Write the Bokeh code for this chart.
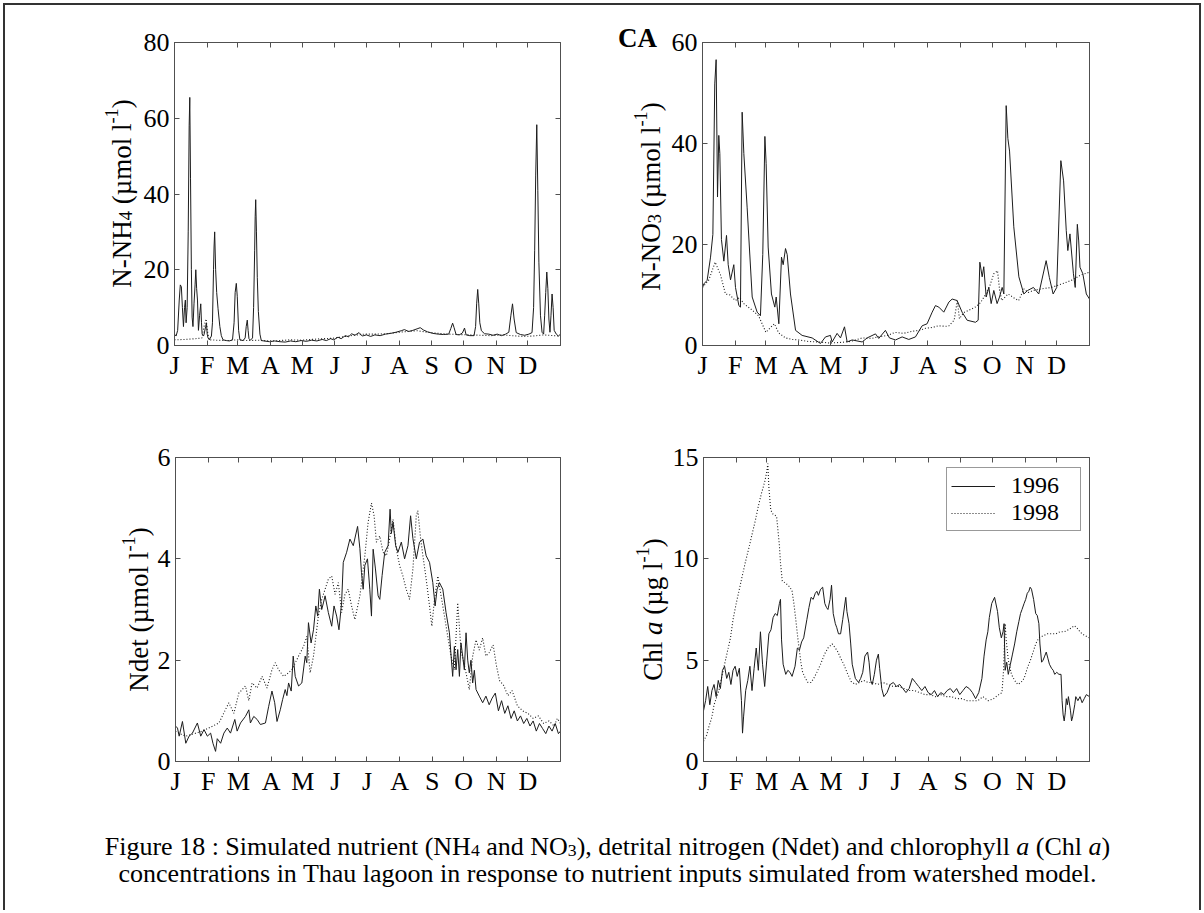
import os
import glob
import math

from bokeh.plotting import figure
from bokeh.models import Range1d, FixedTicker, LinearAxis, Label, Legend, LegendItem
from bokeh.layouts import column, row
from bokeh.embed import file_html
from bokeh.resources import INLINE

# ---------------------------------------------------------------- data
MONTH_TICKS = [0, 31, 60, 91, 121, 152, 182, 213, 244, 274, 305, 335]
MONTH_LABELS = ["J", "F", "M", "A", "M", "J", "J", "A", "S", "O", "N", "D"]
SERIES_NAMES = ["1996", "1998"]

# N-NH4 (umol/l)
nh4_1996_day = [0, 1.5, 3, 4.5, 5.5, 6.5, 7.5, 8.5, 9.5, 10.3, 11, 12, 13, 13.9, 14.5, 15.2, 16, 16.7, 17.5, 18.5,
                19.5, 20.2, 21, 21.8, 22.7, 23.8, 24.9, 25.6, 26.2, 27.5, 28.1, 29.5, 30.3, 31, 31.8, 33, 35, 36, 37,
                37.5, 38.1, 39, 40, 41.3, 43, 44.4, 46, 49.2, 52, 55, 56.5, 57.5, 58.6, 59.5, 60.8, 62, 65, 67, 68, 69,
                69.8, 70.6, 72, 74, 75, 76, 76.5, 77, 77.7, 78.5, 79.5, 81, 82.3, 85, 90, 95, 100, 105, 110, 115, 120,
                125, 130, 135, 140, 144, 148, 151, 155, 158, 162, 165, 168, 171, 175, 178, 182, 186, 190, 195, 200,
                205, 210, 215, 218, 222, 226, 230, 233, 236, 240, 245, 250, 255, 260, 262, 263.7, 265, 267, 270, 273,
                275, 276.5, 280, 284, 285.5, 286.5, 287.5, 288.5, 289.5, 291, 294, 298, 302, 306, 310, 314, 317, 319,
                320.5, 322, 324, 328, 332, 336, 339, 340.5, 341.5, 342.5, 343.5, 344.5, 345.5, 347, 348.5, 350, 351,
                352, 353, 354, 355, 356, 357, 358, 359, 360, 362, 364, 366]
nh4_1996 = [3, 2.5, 4, 12, 16, 15.5, 10, 5, 10, 12, 6, 10, 30, 58, 65.5, 44, 20, 7.5, 5, 11,
            16, 20, 15, 12, 4, 8, 11, 6, 3, 2.5, 3, 5, 6, 3, 2, 1.5, 2.5, 6, 20,
            26, 30, 20, 14, 9.7, 5, 2.6, 1.5, 1.3, 1.2, 1.5, 6, 14, 16.4, 13, 4, 1.5, 1.3, 2, 5, 6.7,
            4, 1.8, 1.4, 2, 10, 25, 34, 38.5, 30, 18, 9, 3, 1.3, 1.2, 1.0, 1.2, 1.0, 0.9, 1.2, 1.0, 1.3,
            1.1, 1.4, 1.2, 1.6, 1.3, 1.8, 1.5, 2.2, 1.8, 2.6, 2.3, 3.1, 2.7, 3.4, 2.5, 2.8, 2.4, 2.8, 2.6, 3.0,
            3.2, 3.5, 3.9, 4.2, 3.7, 4.0, 4.4, 4.7, 4.1, 3.6, 3.2, 3.0, 2.9, 3.0, 4.5, 5.9, 4.8, 2.9, 2.8, 3.3,
            4.6, 2.8, 2.6, 2.6, 5, 11, 14.8, 11, 6, 3.9, 3.1, 3.0, 2.7, 3.0, 2.6, 3.0, 3.5, 8,
            11, 7, 3.4, 2.9, 2.7, 3.0, 3.4, 10, 25, 45, 58.3, 41, 22, 8, 3.5, 3.0, 8,
            14, 19.4, 15, 7, 3.5, 8, 13.6, 10, 4, 3, 2.5, 3]

nh4_1998_day = [0, 10, 20, 26, 28, 30, 31, 33, 40, 50, 60, 70, 80, 90, 100, 110, 120, 130, 140, 150, 160, 170, 180,
                190, 200, 210, 220, 230, 240, 250, 260, 270, 280, 290, 300, 310, 320, 330, 340, 350, 360, 366]
nh4_1998 = [1.5, 1.6, 1.8, 2, 5, 7, 4, 1.5, 1.4, 1.3, 1.5, 1.3, 1.4, 1.2, 1.3, 1.5, 1.4, 1.6, 1.8, 1.9, 2.3, 2.7, 3.0,
            3.0, 3.1, 3.4, 3.7, 3.9, 3.5, 3.2, 3.0, 2.9, 2.8, 2.7, 2.6, 2.8, 2.6, 2.4, 2.5, 2.8, 2.6, 2.5]

# N-NO3 (umol/l)
no3_1996_day = [0, 1.3, 4.4, 7.6, 9.8, 11.6, 12.9, 14.2, 15.4, 16.4, 17.9, 20.2, 22.7, 24.3, 26.5, 29.6, 31.2, 34.4,
                35.9, 37.5, 39.1, 42.2, 47, 51.7, 54.8, 57, 59, 60.2, 62.1, 65.2, 68.4, 69.7, 72.2, 74.7, 76.3, 78.5,
                80.1, 83.2, 88, 94.2, 103.7, 111.6, 116.3, 121, 122.6, 127.3, 130.5, 134.3, 136.8, 141.5, 151, 155.7,
                163.6, 166.7, 173, 176.8, 182.5, 188.8, 195.1, 201.4, 207.7, 212.4, 217.2, 220.3, 223.5, 228.2, 233,
                236.1, 240.8, 245.5, 250.3, 258.2, 260.7, 262.3, 264.5, 266, 268.3, 270.8, 273, 275.5, 278.6, 280.9,
                283.4, 285, 287.2, 288.8, 290.4, 294.4, 299.2, 303.9, 307.5, 313, 318, 325, 328, 331.6, 335, 338.9,
                341.5, 344, 345.5, 347.5, 350.8, 352.5, 354.5, 355.8, 357, 359.7, 363, 366]
no3_1996 = [11.5, 12.2, 12.9, 17.5, 22, 51.8, 56.6, 29.4, 41.6, 38, 21, 16.7, 21.8, 16, 13, 16, 11.5, 7.9,
            7.6, 46.2, 38, 27.4, 9.6, 6.6, 5.9, 18, 41.4, 36, 19.5, 10.2, 7.6, 9.6, 4.3, 17.5, 16, 19.2,
            18, 10.2, 3, 2, 1.5, 0.4, 1.7, 2, 0.7, 2.4, 1.5, 3.7, 0.7, 1.1, 0.7, 1.5,
            2.3, 1.4, 3, 1.5, 1.1, 1.7, 1.2, 1.7, 3.9, 4.3, 6.6, 7.9, 7.6, 6.6, 8.6,
            9.2, 8.9, 6.6, 5, 4.6, 5, 16.5, 13.6, 15.6, 9.6, 11.5, 8.3, 10.9, 8.3, 9.6,
            11.5, 10.2, 47.5, 41, 38.5, 23.5, 13.6, 10.2, 10.9, 11.5, 10.2, 16.8, 13.5, 10.2, 11.5, 36.6,
            32.6, 22.8, 18.8, 22.1, 14.2, 11.5, 24, 20.7, 15.5, 14.2, 10.2, 9.2]

no3_1998_day = [0, 6, 12, 17, 21.7, 26, 31, 35, 39, 47, 53, 57, 60, 64, 68, 72, 78.5, 85, 91, 100, 110, 120, 130, 140,
                151, 160, 166, 175, 182, 190, 198, 205, 211, 218, 223, 230, 233, 238, 241, 243, 247, 252, 258, 263,
                268, 272, 275.5, 279, 281, 283, 289, 294, 299, 304, 308, 313, 320, 330, 340, 350, 358, 366]
no3_1998 = [11.5, 13, 16.5, 14, 10.2, 10, 8.9, 9.5, 8.3, 7, 5.9, 4, 2.6, 3.5, 4.3, 2.5, 1.5, 1.2, 1.1, 0.8, 0.7, 0.5,
            0.6, 0.8, 1.5, 1.4, 1.7, 2.0, 2.6, 2.4, 2.8, 3.0, 3.4, 3.6, 3.9, 3.8, 3.9, 5, 8.9, 5.3, 6.5, 7, 7.6, 8.5,
            10.2, 12, 14.2, 14.8, 11, 8.9, 10.2, 9.5, 8.9, 11.2, 10.5, 10.9, 11.2, 11.5, 12.2, 13, 14, 14.5]

# Ndet (umol/l)
ndet_1996_day = [0, 1.9, 3.5, 6.6, 9.8, 12.9, 16.1, 20.8, 24, 27.1, 30.3, 33.4, 35.6, 38.1, 39.7, 42.9, 46, 49.2,
                 52.3, 56.4, 58.6, 61.8, 66.5, 69.7, 71.2, 74.4, 77.6, 80.7, 85.5, 88.6, 91.7, 94.3, 96.5, 99.6,
                 101.8, 104.3, 105.9, 107.5, 110, 111.9, 113.8, 117, 120.1, 123.3, 124.8, 126.4, 128.9, 131.2, 133.4,
                 135.2, 136.8, 139, 140.6, 142.2, 145.3, 148.5, 150.7, 153.2, 155.4, 157.9, 159.5, 162.7, 165.8, 169,
                 173.1, 175.3, 176.8, 178.4, 180, 182.5, 184.7, 186.3, 187.9, 190.1, 192.6, 194.2, 196.4, 198.9,
                 202.1, 204, 205.2, 206.8, 209.3, 211.5, 214.7, 217.8, 221, 223.5, 225.7, 228.9, 232, 235.2, 238.3,
                 241.5, 244.6, 246.8, 248.7, 250.9, 254.1, 257.2, 260.4, 262, 263.5, 265.1, 266.7, 268.3, 269.9,
                 271.4, 273, 274.6, 276.2, 277.8, 279.3, 280.9, 282.5, 284.1, 285.7, 288.8, 292, 295.1, 298.2, 301,
                 304, 307, 310, 313, 316, 319, 322, 325, 328, 331, 334, 337, 340, 343, 346, 349, 352, 355, 358, 361,
                 364, 366]
ndet_1996 = [0.7, 0.66, 0.5, 0.79, 0.36, 0.5, 0.56, 0.76, 0.5, 0.63, 0.5, 0.56, 0.36, 0.2, 0.45, 0.36, 0.56, 0.66,
             0.56, 0.83, 0.6, 0.76, 0.89, 1.02, 0.76, 0.89, 0.83, 0.73, 0.76, 1.09, 1.39, 1.16, 0.79, 1.02,
             1.22, 1.42, 1.3, 1.55, 1.39, 2.08, 1.68, 1.49, 1.55, 2.08, 1.95, 2.74, 2.34, 2.6, 3.07,
             2.87, 3.4, 3.0, 3.13, 3.27, 2.94, 2.67, 3.07, 2.87, 2.6, 3.13, 3.93, 4.13, 4.39, 4.26,
             4.64, 4.2, 3.73, 3.4, 3.87, 4.0, 3.4, 2.87, 4.19, 3.8, 3.27, 3.2, 3.67, 4.13,
             4.26, 4.98, 4.5, 4.72, 4.26, 4.13, 4.33, 4.0, 4.26, 4.85, 4.4, 4.0, 4.33, 4.39, 4.06,
             3.93, 3.53, 3.07, 3.4, 3.53, 3.4, 2.94, 2.54, 2.08, 1.68, 2.27, 1.81, 2.21, 1.68,
             2.34, 2.08, 1.81, 2.54, 2.0, 1.75, 2.0, 1.55, 1.8, 1.42, 1.29, 1.16, 1.29, 1.12, 1.25,
             1.35, 1.0, 1.2, 0.95, 1.1, 0.85, 1.0, 0.8, 0.9, 0.75, 0.85, 0.7, 0.8, 0.6, 0.75, 0.65, 0.55, 0.7, 0.6, 0.75,
             0.55, 0.6]

ndet_1998_day = [0, 4, 9.8, 25.6, 41.3, 50.7, 55.5, 60.2, 66.5, 69.7, 72.8, 77.6, 82.3, 87, 91.7, 94.9, 98, 102.8,
                 107.5, 110.6, 117, 121.7, 124.8, 128, 131.2, 135.8, 139, 142.2, 145.3, 148.5, 151.7, 154.8, 157.9,
                 161.1, 164.2, 167.4, 170.5, 175.3, 180, 183.1, 186.3, 188.8, 191, 194.2, 197.3, 200.5, 203.6, 206.8,
                 209.9, 213, 216.2, 219.3, 222.5, 225.7, 228.9, 230.4, 233, 235.2, 238.3, 241.5, 243.7, 246.2, 249.4,
                 252.5, 255.7, 258.8, 262, 265.1, 268.3, 271.4, 276.2, 279.3, 282.5, 285.7, 288.8, 292, 295.1, 298.2,
                 302, 305, 308, 312, 316, 320, 325, 330, 335, 340, 345, 350, 355, 360, 363, 366]
ndet_1998 = [0.6, 0.55, 0.5, 0.6, 0.76, 1.16, 0.95, 1.35, 1.49, 1.2, 1.55, 1.45, 1.68, 1.45, 1.81, 1.95, 1.81, 1.68,
             1.75, 1.81, 2.08, 2.27, 2.47, 1.75, 2.08, 2.87, 3.2, 3.4, 3.6, 3.66, 3.3, 3.53, 2.94,
             3.3, 3.4, 3.07, 2.8, 3.27, 4.06, 4.72, 5.1, 4.85, 4.33, 4.45, 4.13, 4.06, 4.4, 4.78,
             4.2, 3.87, 3.66, 3.4, 3.2, 3.8, 4.85, 4.95, 4.4, 4.06, 3.6, 3.07, 2.67, 3.2, 3.66,
             3.27, 2.87, 2.47, 2.08, 1.81, 3.13, 2.2, 1.75, 1.42, 2.08, 2.4, 2.2, 2.44, 2.08, 2.15,
             2.3, 1.9, 1.6, 1.5, 1.3, 1.4, 1.1, 1.0, 0.95, 0.85, 0.9, 0.75, 0.8, 0.7, 0.85, 0.75]

# Chl a (ug/l)
chl_1996_day = [0, 2, 4, 6, 8, 10, 12, 14, 16, 18, 20, 22, 24, 26, 28, 30, 32, 34, 36, 37, 38, 40, 42, 44, 46, 48, 50,
                52, 54, 56, 58, 60, 62, 64, 66, 68, 70, 72, 73, 74, 75.5, 78, 80, 82, 84, 86.8, 89, 91, 93, 95, 98,
                100, 102, 104, 106, 107.5, 109, 111, 113, 115, 116.6, 118, 120, 121.4, 123, 125, 126.4, 128, 130,
                132, 134.9, 136, 138, 139.6, 141, 144, 147, 149, 151, 153, 155.6, 157, 158.5, 160, 162, 164, 165.8,
                167, 169, 171, 174, 177, 180, 183, 186, 189, 192, 195, 198, 201, 204, 207, 210, 213, 216, 219, 222,
                225, 228, 231, 234, 237, 240, 243, 246, 249, 252, 255, 258, 261, 264, 266, 268, 269.6, 271, 273.3,
                276, 278.8, 280.5, 282.4, 284, 285, 286, 287.5, 289, 291, 293, 295, 297, 299, 300.6, 302, 304, 305.5,
                307, 308.5, 309.7, 311, 313, 315, 316.5, 318, 319, 320.6, 322, 323.5, 325, 326.5, 328, 330, 331.6,
                333, 335, 337, 339, 340, 341, 342, 343, 344, 345, 346, 348, 349, 350, 352, 353, 355, 357, 359, 361,
                363, 366]
chl_1996 = [2.5, 3.0, 3.7, 2.8, 3.5, 3.8, 3.2, 4.0, 3.6, 4.5, 4.7, 4.1, 4.4, 3.8, 4.5, 4.7, 4.2, 4.6, 3.0, 1.4, 2.2,
            3.5, 4.0, 4.7, 3.5, 4.6, 5.6, 4.5, 6.4, 4.8, 3.7, 5.0, 6.3, 6.5, 7.1, 7.3, 7.2, 7.8, 8.0, 6.0, 4.8, 4.3,
            4.5, 4.4, 4.2, 4.7, 5.6, 5.5, 5.9, 6.1, 7.0, 7.6, 8.1, 8.0, 8.3, 8.4, 8.2, 8.5, 8.6, 7.8, 7.6, 7.5,
            8.0, 8.7, 7.3, 6.8, 6.6, 6.3, 6.3, 7.0, 8.1, 7.4, 6.8, 5.8, 4.8, 4.1, 3.9, 4.1, 4.4, 5.2, 5.4,
            4.9, 4.0, 3.8, 4.3, 5.0, 5.3, 4.6, 3.6, 3.2, 3.4, 3.8, 3.9, 3.7, 3.8, 3.6, 3.4, 3.6, 4.1, 3.9,
            3.7, 3.5, 3.7, 3.4, 3.3, 3.5, 3.2, 3.4, 3.3, 3.5, 3.6, 3.4, 3.6, 3.3, 3.5, 3.7, 3.6, 3.4, 3.1,
            3.4, 4.1, 5.2, 6.0, 6.4, 7.1, 7.8, 8.1, 7.4, 6.6, 6.1, 6.4, 6.8, 4.5, 4.9, 4.3, 4.8, 5.3, 5.8,
            6.4, 6.9, 7.3, 7.5, 7.8, 8.0, 8.3, 8.4, 8.6, 8.5, 8.0, 7.3, 7.2, 6.8, 5.8, 4.9, 5.0, 5.2, 5.4,
            5.1, 4.8, 4.6, 4.5, 4.3, 4.4, 4.3, 4.3, 3.0, 2.3, 2.0, 2.4, 3.1, 2.8, 3.2, 2.5, 2.0, 2.2, 2.8,
            3.2, 3.0, 3.2, 2.9, 3.1, 3.3, 3.2]

chl_1998_day = [0, 3, 5, 8, 10, 12, 14.6, 17, 20, 23, 25.6, 28, 31, 34, 36.5, 40, 43.8, 46, 49.2, 52, 54.8, 57, 58.5,
                60, 61, 62, 63.8, 66, 69.3, 71.9, 73, 74.7, 78, 82, 84, 85.7, 87.5, 89.4, 92.3, 94, 96.7, 99, 102,
                104.5, 107.5, 111, 114.8, 118, 122, 125, 127.5, 130, 133, 136, 140, 144, 148, 152, 156, 160, 165,
                170, 175, 180, 185, 190, 195, 200, 205, 210, 215, 220, 225, 230, 235, 240, 245, 250, 255, 260, 265,
                270, 275, 280, 283, 284.5, 286, 287, 289, 292, 295, 298, 301, 304, 307, 310, 312.5, 315, 318, 322,
                326, 330, 334, 338, 342, 346, 349, 351.6, 354, 357, 359, 362, 366]
chl_1998 = [1.0, 1.3, 1.7, 2.2, 2.8, 3.1, 3.5, 4.1, 4.8, 5.5, 6.1, 7.0, 7.8, 8.5, 9.1, 9.9, 10.7, 11.2, 11.9, 12.6,
            13.2, 13.6, 13.9, 14.3, 14.7, 13.5, 12.4, 12.2, 12.1, 10.7, 9.8, 8.9, 8.8, 8.6, 8.4, 7.8, 7.0, 6.1, 4.9,
            4.4, 4.1, 3.9, 3.9, 4.1, 4.4, 4.8, 5.3, 5.6, 5.8, 5.6, 5.4, 5.1, 4.8, 4.4, 3.95, 3.8, 3.9, 4.0, 3.9,
            3.9, 3.8, 3.9, 3.8, 3.7, 3.7, 3.6, 3.5, 3.5, 3.4, 3.3, 3.3, 3.2, 3.3, 3.2, 3.2, 3.1, 3.1, 3.0, 3.0,
            3.0, 3.2, 3.0, 3.1, 3.3, 3.4, 4.5, 6.8, 6.0, 5.0, 4.3, 4.0, 3.8, 3.9, 4.1, 4.6, 5.0, 5.4, 5.8, 6.1,
            6.2, 6.3, 6.3, 6.3, 6.4, 6.4, 6.5, 6.6, 6.7, 6.6, 6.4, 6.3, 6.2, 6.1]

YLABEL_TL = [("N-NH", "n"), ("4", "sub"), (" (\u00b5mol l", "n"), ("-1", "sup"), (")", "n")]
YLABEL_TR = [("N-NO", "n"), ("3", "sub"), (" (\u00b5mol l", "n"), ("-1", "sup"), (")", "n")]
YLABEL_BL = [("Ndet (\u00b5mol l", "n"), ("-1", "sup"), (")", "n")]
YLABEL_BR = [("Chl ", "n"), ("a", "i"), (" (\u00b5g l", "n"), ("-1", "sup"), (")", "n")]
PANEL_TAG = "CA"
CAPTION_LINE1 = [("Figure 18 : Simulated nutrient (NH", "n"), ("4", "sub"), (" and NO", "n"), ("3", "sub"),
                 ("), detrital nitrogen (Ndet) and chlorophyll ", "n"), ("a", "i"), (" (Chl ", "n"), ("a", "i"),
                 (")", "n")]
CAPTION_LINE2 = [("concentrations in Thau lagoon in response to nutrient inputs simulated from watershed model.", "n")]

# ---------------------------------------------------------------- styling helpers
SERIF = "Liberation Serif"
FRAME = "#505050"
INK = "#1c1c1c"
TICK_FS = 26
LAB_FS = 27

_FONT_FILES = {"n": "LiberationSerif-Regular.ttf", "i": "LiberationSerif-Italic.ttf",
               "b": "LiberationSerif-Bold.ttf"}
_font_cache = {}


def _load_font(key):
    if key in _font_cache:
        return _font_cache[key]
    f = None
    try:
        from PIL import ImageFont
        fname = _FONT_FILES[key]
        for root in ["/usr/share/fonts", "/usr/local/share/fonts", os.path.expanduser("~/.fonts"),
                     os.path.expanduser("~/.local/share/fonts")]:
            hits = glob.glob(os.path.join(root, "**", fname), recursive=True)
            if hits:
                f = ImageFont.truetype(hits[0], 100)
                break
    except Exception:
        f = None
    _font_cache[key] = f
    return f


def measure(text, style, size):
    key = "i" if style == "i" else ("b" if style == "b" else "n")
    f = _load_font(key)
    if f is None:
        return 0.46 * size * len(text)
    return f.getlength(text) * size / 100.0


def piece_size(style, size):
    return size * 0.68 if style in ("sub", "sup") else size


def piece_shift(style, size):
    return 0.16 * size if style == "sub" else (-0.36 * size if style == "sup" else 0.0)


def add_piece_label(p, x, y, text, style, fs, angle=0.0):
    p.add_layout(Label(x=x, y=y, text=text, angle=angle, text_align="left", text_baseline="alphabetic",
                       text_font=SERIF, text_font_size=f"{fs:.1f}px",
                       text_font_style=("italic" if style == "i" else ("bold" if style == "b" else "normal")),
                       text_color="black"))


def text_canvas(width, height, bt=0, bb=0):
    """A plain figure whose frame spans local pixel rows [bt, height-bb]; data units == local pixels."""
    c = figure(width=width, height=height, x_range=Range1d(0, width), y_range=Range1d(height - bb, bt),
               toolbar_location=None, output_backend="svg", title=None,
               min_border_left=0, min_border_right=0, min_border_top=bt, min_border_bottom=bb)
    c.axis.visible = False
    c.grid.visible = False
    c.outline_line_color = None
    c.background_fill_color = "white"
    c.border_fill_color = "white"
    return c


def vertical_rich_label(c, pieces, base_x, center_y, size):
    total = sum(measure(t, st, piece_size(st, size)) for t, st in pieces)
    y = center_y + total / 2.0
    for t, st in pieces:
        fs = piece_size(st, size)
        adv = measure(t, st, fs)
        lead = len(t) - len(t.lstrip(" "))
        lead_w = measure(" " * lead, st, fs)
        if t.strip():
            add_piece_label(c, base_x + piece_shift(st, size), y - lead_w, t.strip(), st, fs, angle=math.pi / 2)
        y -= adv


def horizontal_rich_label(c, pieces, center_x, baseline_y, size):
    total = sum(measure(t, st, piece_size(st, size)) for t, st in pieces)
    x = center_x - total / 2.0
    for t, st in pieces:
        fs = piece_size(st, size)
        adv = measure(t, st, fs)
        lead = len(t) - len(t.lstrip(" "))
        lead_w = measure(" " * lead, st, fs)
        if t.strip():
            add_piece_label(c, x + lead_w, baseline_y + piece_shift(st, size), t.strip(), st, fs)
        x += adv


def style_axis(ax, ticks, show=True, overrides=None, standoff=5):
    ax.ticker = FixedTicker(ticks=ticks)
    ax.major_tick_in = 5
    ax.major_tick_out = 0
    ax.minor_tick_line_color = None
    ax.axis_line_color = FRAME
    ax.major_tick_line_color = FRAME
    ax.axis_line_width = 1
    if show:
        ax.major_label_text_font = SERIF
        ax.major_label_text_font_size = f"{TICK_FS}px"
        ax.major_label_text_color = "black"
        ax.major_label_standoff = standoff
        if overrides:
            ax.major_label_overrides = overrides
    else:
        ax.major_label_text_color = None


def make_panel(width, height, bl, br, bt, bb, ymax, yticks):
    p = figure(width=width, height=height, x_range=Range1d(0, 366), y_range=Range1d(0, ymax),
               toolbar_location=None, output_backend="svg",
               min_border_left=bl, min_border_right=br, min_border_top=bt, min_border_bottom=bb)
    p.grid.visible = False
    p.outline_line_color = FRAME
    p.background_fill_color = "white"
    p.border_fill_color = "white"
    style_axis(p.xaxis[0], MONTH_TICKS, overrides={t: m for t, m in zip(MONTH_TICKS, MONTH_LABELS)}, standoff=5)
    style_axis(p.yaxis[0], yticks, standoff=5)
    top_ax = LinearAxis()
    style_axis(top_ax, MONTH_TICKS, show=False)
    p.add_layout(top_ax, "above")
    right_ax = LinearAxis()
    style_axis(right_ax, yticks, show=False)
    p.add_layout(right_ax, "right")
    return p


def draw_pair(p, d96, v96, d98, v98):
    r98 = p.line(d98, v98, line_color=INK, line_width=1.1, line_dash="1 2")
    r96 = p.line(d96, v96, line_color=INK, line_width=1)
    return r96, r98


# ---------------------------------------------------------------- layout geometry (page pixels)
OX, OY = 5, 5
ROW_H = [395, 415]
ROW_BT = [37, 57]
ROW_BB = [55, 54]
L1_W, P1_W, L2_W, P2_W = 135, 462, 66, 531
L3_W, P3_W, L4_W, P4_W = 149, 448, 67, 530

# ---------------------------------------------------------------- panels
p1 = make_panel(P1_W, ROW_H[0], 33, 42, ROW_BT[0], ROW_BB[0], 80, [0, 20, 40, 60, 80])
draw_pair(p1, nh4_1996_day, nh4_1996, nh4_1998_day, nh4_1998)

p2 = make_panel(P2_W, ROW_H[0], 34, 110, ROW_BT[0], ROW_BB[0], 60, [0, 20, 40, 60])
draw_pair(p2, no3_1996_day, no3_1996, no3_1998_day, no3_1998)

p3 = make_panel(P3_W, ROW_H[1], 19, 42, ROW_BT[1], ROW_BB[1], 6, [0, 2, 4, 6])
draw_pair(p3, ndet_1996_day, ndet_1996, ndet_1998_day, ndet_1998)

p4 = make_panel(P4_W, ROW_H[1], 33, 110, ROW_BT[1], ROW_BB[1], 15, [0, 5, 10, 15])
r96, r98 = draw_pair(p4, chl_1996_day, chl_1996, chl_1998_day, chl_1998)

legend = Legend(items=[LegendItem(label=SERIES_NAMES[0], renderers=[r96]),
                       LegendItem(label=SERIES_NAMES[1], renderers=[r98])],
                location=(243, 230))
legend.label_text_font = SERIF
legend.label_text_font_size = "24px"
legend.label_text_color = "black"
legend.glyph_width = 44
legend.glyph_height = 24
legend.label_height = 24
legend.label_width = 65
legend.label_standoff = 16
legend.spacing = 0
legend.padding = 4
legend.margin = 0
legend.border_line_color = "#333333"
legend.border_line_width = 1
legend.background_fill_color = "white"
legend.background_fill_alpha = 1.0
p4.add_layout(legend)

# ---------------------------------------------------------------- label strips (page coords -> local)
l1 = text_canvas(L1_W, ROW_H[0], ROW_BT[0], ROW_BB[0])
vertical_rich_label(l1, YLABEL_TL, 121 - OX, 193 - OY, LAB_FS)

x_l2 = OX + L1_W + P1_W
l2 = text_canvas(L2_W, ROW_H[0], ROW_BT[0], ROW_BB[0])
vertical_rich_label(l2, YLABEL_TR, 650 - x_l2, 196 - OY, LAB_FS)
# panel tag "CA": drawn as the single tick label of an (otherwise invisible) axis above the strip
ca_x = 637 - x_l2
tag_ax = LinearAxis(ticker=FixedTicker(ticks=[ca_x]), major_label_overrides={ca_x: PANEL_TAG})
tag_ax.axis_line_color = None
tag_ax.major_tick_line_color = None
tag_ax.minor_tick_line_color = None
tag_ax.major_tick_in = 0
tag_ax.major_tick_out = 0
tag_ax.major_label_standoff = -10
tag_ax.major_label_text_font = SERIF
tag_ax.major_label_text_font_size = "27px"
tag_ax.major_label_text_font_style = "bold"
tag_ax.major_label_text_color = "black"
l2.add_layout(tag_ax, "above")

y_r2 = OY + ROW_H[0]
l3 = text_canvas(L3_W, ROW_H[1], ROW_BT[1], ROW_BB[1])
vertical_rich_label(l3, YLABEL_BL, 138 - OX, 609 - y_r2, LAB_FS)

x_l4 = OX + L3_W + P3_W
l4 = text_canvas(L4_W, ROW_H[1], ROW_BT[1], ROW_BB[1])
vertical_rich_label(l4, YLABEL_BR, 652 - x_l4, 609 - y_r2, LAB_FS)

# ---------------------------------------------------------------- caption
CAP_W = L1_W + P1_W + L2_W + P2_W
CAP_H = 95
cap = text_canvas(CAP_W, CAP_H)
cap_top = OY + sum(ROW_H)
cap_size = 998.0 / max(1e-6, sum(measure(t, s, 1.0) for t, s in CAPTION_LINE2))
cap_size = max(18.0, min(26.0, cap_size))
horizontal_rich_label(cap, CAPTION_LINE1, 607 - OX, 846 - cap_top, cap_size)
horizontal_rich_label(cap, CAPTION_LINE2, 607 - OX, 873 - cap_top, cap_size)

layout = column(row(l1, p1, l2, p2), row(l3, p3, l4, p4), cap, margin=(3, 0, 0, 3),
                styles={"border-top": "2px solid #333333", "border-left": "2px solid #333333",
                        "border-right": "2px solid #333333"})

open("out.html", "w").write(file_html(layout, INLINE))
